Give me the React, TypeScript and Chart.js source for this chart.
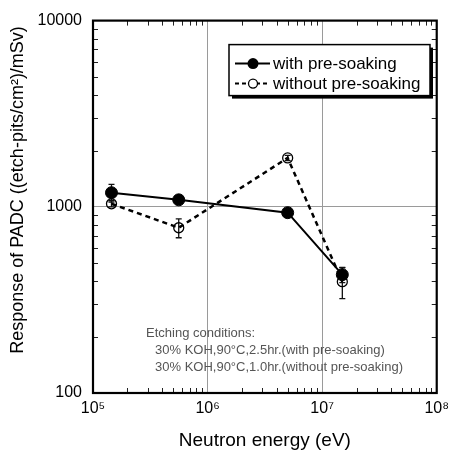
import React, { useEffect, useRef } from "react";
import { Chart, registerables } from "chart.js";
Chart.register(...registerables);

const energies = [1.45e5, 5.6e5, 5.0e6, 1.5e7];
const withSoak = [1190, 1090, 930, 432];
const withSoakErr = [130, 40, 30, 40];
const withoutSoak = [1038, 772, 1830, 396];
const withoutSoakErr = [40, 90, 60, 75];
const xDecades = [1e5, 1e6, 1e7, 1e8];
const xTickLabels = ["10⁵", "10⁶", "10⁷", "10⁸"];
const yDecades = [100, 1000, 10000];
const yTickLabels = ["100", "1000", "10000"];
const seriesLabels = ["with pre-soaking", "without pre-soaking"];
const xTitle = "Neutron energy (eV)";
const yTitle = "Response of PADC ((etch-pits/cm²)/mSv)";
const noteLines = [
  "Etching conditions:",
  "30% KOH,90°C,2.5hr.(with pre-soaking)",
  "30% KOH,90°C,1.0hr.(without pre-soaking)",
];

const FONT = "'Liberation Sans', Arial, sans-serif";

function decadeIndex(list: number[], v: number) {
  for (let i = 0; i < list.length; i++) {
    if (Math.abs(Math.log10(v) - Math.log10(list[i])) < 1e-6) return i;
  }
  return -1;
}

const errs = [withSoakErr, withoutSoakErr];

const decorPlugin = {
  id: "decor",
  beforeDatasetsDraw(chart: any) {
    const ctx = chart.ctx;
    const xs = chart.scales.x;
    const ys = chart.scales.y;
    ctx.save();
    ctx.strokeStyle = "#111";
    ctx.lineWidth = 1.3;
    chart.data.datasets.forEach((ds: any, di: number) => {
      ds.data.forEach((p: any, i: number) => {
        const e = errs[di][i];
        const px = xs.getPixelForValue(p.x);
        const y1 = ys.getPixelForValue(p.y + e);
        const y2 = ys.getPixelForValue(p.y - e);
        ctx.beginPath();
        ctx.moveTo(px, y1);
        ctx.lineTo(px, y2);
        ctx.moveTo(px - 3, y1);
        ctx.lineTo(px + 3, y1);
        ctx.moveTo(px - 3, y2);
        ctx.lineTo(px + 3, y2);
        ctx.stroke();
      });
    });
    ctx.restore();
  },
  afterDatasetsDraw(chart: any) {
    const ctx = chart.ctx;
    const a = chart.chartArea;
    const xs = chart.scales.x;
    const ys = chart.scales.y;
    ctx.save();
    // minor ticks inward on all four sides
    ctx.strokeStyle = "#222";
    ctx.lineWidth = 1;
    for (let d = 5; d < 8; d++) {
      for (let m = 2; m <= 9; m++) {
        const px = Math.round(xs.getPixelForValue(m * Math.pow(10, d))) + 0.5;
        ctx.beginPath();
        ctx.moveTo(px, a.bottom);
        ctx.lineTo(px, a.bottom - 5);
        ctx.moveTo(px, a.top);
        ctx.lineTo(px, a.top + 5);
        ctx.stroke();
      }
    }
    for (let d = 2; d < 4; d++) {
      for (let m = 2; m <= 9; m++) {
        const py = Math.round(ys.getPixelForValue(m * Math.pow(10, d))) + 0.5;
        ctx.beginPath();
        ctx.moveTo(a.left, py);
        ctx.lineTo(a.left + 5, py);
        ctx.moveTo(a.right, py);
        ctx.lineTo(a.right - 5, py);
        ctx.stroke();
      }
    }
    // frame
    ctx.strokeStyle = "#000";
    ctx.lineWidth = 2.2;
    ctx.strokeRect(a.left, a.top, a.right - a.left, a.bottom - a.top);

    // legend
    const lx = a.left + 136;
    const ly = a.top + 24;
    const lw = 201;
    const lh = 51;
    ctx.fillStyle = "#000";
    ctx.fillRect(lx + 3, ly + 3, lw, lh);
    ctx.fillStyle = "#fff";
    ctx.fillRect(lx, ly, lw, lh);
    ctx.strokeStyle = "#000";
    ctx.lineWidth = 1.5;
    ctx.strokeRect(lx, ly, lw, lh);
    const rows = [ly + 19, ly + 39];
    chart.data.datasets.forEach((ds: any, i: number) => {
      const ry = rows[i];
      ctx.strokeStyle = "#000";
      ctx.lineWidth = 2;
      ctx.setLineDash(i === 0 ? [] : [4, 3]);
      ctx.beginPath();
      ctx.moveTo(lx + 6, ry);
      ctx.lineTo(lx + 41, ry);
      ctx.stroke();
      ctx.setLineDash([]);
      ctx.beginPath();
      ctx.arc(lx + 24, ry, i === 0 ? 5.5 : 4.5, 0, Math.PI * 2);
      if (i === 0) {
        ctx.fillStyle = "#000";
        ctx.fill();
      } else {
        ctx.fillStyle = "#fff";
        ctx.fill();
        ctx.lineWidth = 1.3;
        ctx.stroke();
      }
      ctx.fillStyle = "#000";
      ctx.font = `17px ${FONT}`;
      ctx.textAlign = "left";
      ctx.textBaseline = "middle";
      ctx.fillText(ds.label, lx + 44, ry + 1);
    });

    // note
    ctx.fillStyle = "#555";
    ctx.font = `13px ${FONT}`;
    ctx.textAlign = "left";
    ctx.textBaseline = "middle";
    noteLines.forEach((t, i) => {
      ctx.fillText(t, a.left + (i === 0 ? 53 : 62), a.top + 313 + i * 17);
    });

    // y title
    ctx.translate(18, 190);
    ctx.rotate(-Math.PI / 2);
    ctx.fillStyle = "#000";
    ctx.font = `18px ${FONT}`;
    ctx.textAlign = "center";
    ctx.textBaseline = "middle";
    ctx.fillText(yTitle, 0, 0);
    ctx.restore();
  },
};

export default function App() {
  const ref = useRef<HTMLCanvasElement | null>(null);
  useEffect(() => {
    if (!ref.current) return;
    const chart = new Chart(ref.current, {
      type: "scatter",
      data: {
        datasets: [
          {
            label: seriesLabels[0],
            data: energies.map((x, i) => ({ x, y: withSoak[i] })),
            showLine: true,
            borderColor: "#000",
            backgroundColor: "#000",
            borderWidth: 2,
            pointRadius: 6,
            pointBackgroundColor: "#000",
            pointBorderColor: "#000",
            pointBorderWidth: 1,
            tension: 0,
          },
          {
            label: seriesLabels[1],
            data: energies.map((x, i) => ({ x, y: withoutSoak[i] })),
            showLine: true,
            borderColor: "#000",
            backgroundColor: "rgba(0,0,0,0)",
            borderWidth: 2.5,
            borderDash: [5, 4],
            pointRadius: 5,
            pointBackgroundColor: "rgba(255,255,255,0)",
            pointBorderColor: "#000",
            pointBorderWidth: 1.3,
            tension: 0,
          },
        ],
      },
      options: {
        animation: false,
        responsive: false,
        layout: { padding: { top: 20, right: 14, left: 0, bottom: 0 } },
        plugins: { legend: { display: false }, tooltip: { enabled: false } },
        scales: {
          x: {
            type: "logarithmic",
            min: 1e5,
            max: 1e8,
            afterFit: (s: any) => {
              s.height = 57;
            },
            border: { display: false },
            grid: {
              drawTicks: false,
              lineWidth: 1,
              color: (c: any) =>
                c.tick && decadeIndex(xDecades, c.tick.value) > 0 && decadeIndex(xDecades, c.tick.value) < xDecades.length - 1
                  ? "#9a9a9a"
                  : "rgba(0,0,0,0)",
            },
            ticks: {
              autoSkip: false,
              maxRotation: 0,
              padding: 6,
              color: "#000",
              font: { size: 16, family: FONT },
              callback: (v: any) => {
                const i = decadeIndex(xDecades, Number(v));
                return i >= 0 ? xTickLabels[i] : "";
              },
            },
            title: {
              display: true,
              text: xTitle,
              color: "#000",
              font: { size: 19, family: FONT, lineHeight: 1 },
              padding: { top: 0, bottom: 0 },
            },
          },
          y: {
            type: "logarithmic",
            min: 100,
            max: 10000,
            afterFit: (s: any) => {
              s.width = 93;
            },
            border: { display: false },
            grid: {
              drawTicks: false,
              lineWidth: 1,
              color: (c: any) =>
                c.tick && decadeIndex(yDecades, c.tick.value) > 0 && decadeIndex(yDecades, c.tick.value) < yDecades.length - 1
                  ? "#9a9a9a"
                  : "rgba(0,0,0,0)",
            },
            ticks: {
              autoSkip: false,
              padding: 11,
              color: "#000",
              font: { size: 16, family: FONT },
              callback: (v: any) => {
                const i = decadeIndex(yDecades, Number(v));
                return i >= 0 ? yTickLabels[i] : "";
              },
            },
          },
        },
      },
      plugins: [decorPlugin],
    } as any);
    return () => chart.destroy();
  }, []);
  return (
    <div style={{ position: "fixed", left: 0, top: 0, width: 455, height: 450, background: "#fff" }}>
      <canvas ref={ref} width={455} height={450} style={{ width: 455, height: 450 }} />
    </div>
  );
}
